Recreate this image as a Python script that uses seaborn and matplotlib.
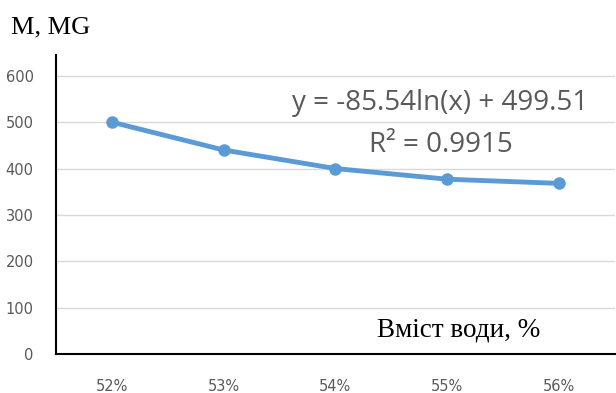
import matplotlib
matplotlib.use("Agg")
import matplotlib.pyplot as plt
import seaborn as sns
import pandas as pd

categories = ["52%", "53%", "54%", "55%", "56%"]
values = [500, 440, 400, 377, 368]
yticks = [0, 100, 200, 300, 400, 500, 600]

sns.set_style("white")
df = pd.DataFrame({"x": range(len(categories)), "y": values})

fig = plt.figure(figsize=(6.16, 3.93), dpi=100)
ax = fig.add_axes([0.0909, 0.0992, 0.907, 0.761])
sns.lineplot(data=df, x="x", y="y", ax=ax, color="#5B9BD5", linewidth=3.5,
             marker="o", markersize=9, markeredgewidth=0, zorder=3)

ax.set_xlim(-0.5, len(categories) - 0.5)
ax.set_ylim(0, 645)
ax.set_yticks(yticks)
ax.set_xticks(range(len(categories)))
ax.set_xticklabels(categories)
ax.yaxis.grid(True, color="#d9d9d9", linewidth=1)
ax.set_axisbelow(True)
ax.tick_params(axis="both", length=0, labelsize=10.5, labelcolor="#595959")
ax.tick_params(axis="x", pad=18)
ax.tick_params(axis="y", pad=16)
for s in ["top", "right"]:
    ax.spines[s].set_visible(False)
for s in ["left", "bottom"]:
    ax.spines[s].set_color("black")
    ax.spines[s].set_linewidth(1.5)
ax.set_xlabel("")
ax.set_ylabel("")

fig.text(0.018, 0.93, "M, MG", family="Liberation Serif", fontsize=19, color="black", va="center")
fig.text(0.745, 0.16, "Вміст води, %", family="Liberation Serif", fontsize=19.5,
         color="black", ha="center", va="center")
fig.text(0.715, 0.738, "y = -85.54ln(x) + 499.51", family="Open Sans", fontsize=20,
         color="#595959", ha="center", va="center")
fig.text(0.715, 0.63, "R² = 0.9915", family="Open Sans", fontsize=20,
         color="#595959", ha="center", va="center")

fig.savefig("out.png", dpi=100)
